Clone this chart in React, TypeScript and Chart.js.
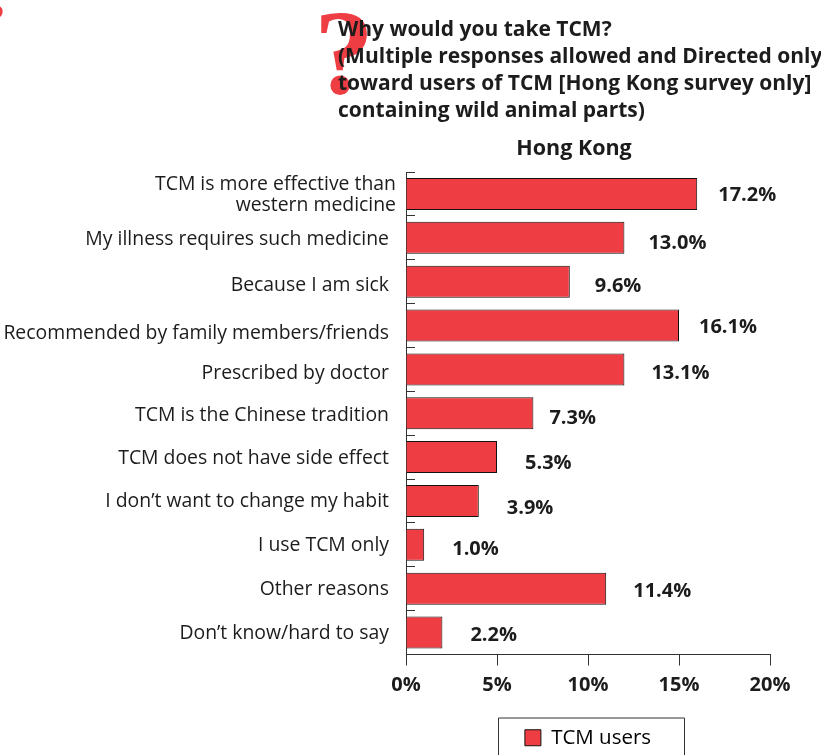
import React, { useEffect, useRef } from "react";
import { Chart, registerables } from "chart.js";

Chart.register(...registerables);

const categories: (string | string[])[] = [
  ["TCM is more effective than", "western medicine"],
  "My illness requires such medicine",
  "Because I am sick",
  "Recommended by family members/friends",
  "Prescribed by doctor",
  "TCM is the Chinese tradition",
  "TCM does not have side effect",
  "I don\u2019t want to change my habit",
  "I use TCM only",
  "Other reasons",
  "Don\u2019t know/hard to say",
];
const barValues = [16, 12, 9, 15, 12, 7, 5, 4, 1, 11, 2];
const printedValues = ["17.2%", "13.0%", "9.6%", "16.1%", "13.1%", "7.3%", "5.3%", "3.9%", "1.0%", "11.4%", "2.2%"];
const xTicks = [0, 5, 10, 15, 20];
const titleLines = [
  "Why would you take TCM?",
  "(Multiple responses allowed and Directed only",
  "toward users of TCM [Hong Kong survey only]",
  "containing wild animal parts)",
];
const subtitle = "Hong Kong";
const seriesName = "TCM users";

const RED = "#ef3d44";
const INK = "#1c1c1c";
const FAMILY = '"Open Sans", sans-serif';

// hand-placed nudges seen in the printed figure
const valueNudgeX = [21, 24, 25, 20, 27, 16, 28, 28, 28, 27, 28];
const valueNudgeY = [1, 6, 5, 2, 4, 5, 6, 7, 4, 3, 3];
const labelNudgeX = [7, 0, 0, 0, 0, 0, 0, 0, 0, 0, 0];
const labelNudgeY = [1, 2, 4, 8, 4, 2, 1, 1, 1, 1, 1];

const artwork = {
  id: "artwork",
  beforeDraw(chart: any) {
    const { ctx } = chart;
    const yScale = chart.scales.y;
    const items = yScale.getLabelItems(chart.chartArea);
    items.forEach((it: any, i: number) => {
      it.options.translation = [389 + labelNudgeX[i], yScale.getPixelForTick(i) + labelNudgeY[i]];
    });
    ctx.save();
    ctx.fillStyle = RED;
    ctx.textBaseline = "alphabetic";
    ctx.textAlign = "left";
    ctx.font = 'bold 120px "Liberation Serif", serif';
    ctx.fillText("?", 314, 93);
    ctx.font = 'bold 40px "Liberation Serif", serif';
    ctx.fillText("?", -15, 31);

    ctx.fillStyle = INK;
    ctx.font = `bold 21px ${FAMILY}`;
    ctx.textBaseline = "middle";
    titleLines.forEach((line, i) => ctx.fillText(line, 338, 30.5 + i * 26.7));
    ctx.textAlign = "center";
    ctx.font = `bold 21.5px ${FAMILY}`;
    ctx.fillText(subtitle, 574, 149);
    ctx.restore();
  },
  afterDatasetsDraw(chart: any) {
    const { ctx } = chart;
    const xScale = chart.scales.x;
    const yScale = chart.scales.y;
    ctx.save();
    ctx.fillStyle = INK;
    ctx.font = `bold 20px ${FAMILY}`;
    ctx.textBaseline = "middle";
    printedValues.forEach((text, i) => {
      ctx.fillText(
        text,
        xScale.getPixelForValue(barValues[i]) + valueNudgeX[i],
        yScale.getPixelForValue(i) + valueNudgeY[i],
      );
    });
    ctx.restore();
  },
  afterDraw(chart: any) {
    const { ctx, chartArea, legend } = chart;
    const mid = (chartArea.left + chartArea.right) / 2 + 3;
    ctx.save();
    ctx.strokeStyle = "#333333";
    ctx.lineWidth = 1;
    ctx.beginPath();
    ctx.moveTo(mid - 93 + 0.5, 755);
    ctx.lineTo(mid - 93 + 0.5, legend.top - 0.5);
    ctx.lineTo(mid + 93 + 0.5, legend.top - 0.5);
    ctx.lineTo(mid + 93 + 0.5, 755);
    ctx.stroke();
    ctx.restore();
  },
};

export default function App() {
  const ref = useRef<HTMLCanvasElement>(null);
  useEffect(() => {
    const chart = new Chart(ref.current as HTMLCanvasElement, {
      type: "bar",
      data: {
        labels: categories as any,
        datasets: [
          {
            label: seriesName,
            data: barValues,
            backgroundColor: RED,
            borderColor: "#111111",
            borderWidth: 1,
            categoryPercentage: 0.73,
            barPercentage: 1,
          },
        ],
      },
      options: {
        indexAxis: "y",
        responsive: false,
        animation: false,
        layout: { padding: { top: 172, right: 51, left: 0, bottom: -3 } },
        scales: {
          x: {
            min: 0,
            max: 20,
            afterFit(scale: any) {
              scale.height = 64;
            },
            afterBuildTicks(scale: any) {
              scale.ticks = xTicks.map((value) => ({ value }));
            },
            grid: {
              drawOnChartArea: false,
              drawTicks: true,
              tickLength: 11,
              color: "#333333",
            },
            border: { color: "#333333", width: 1 },
            ticks: {
              padding: 8,
              maxRotation: 0,
              color: INK,
              font: { family: FAMILY, size: 20, weight: "bold" },
              callback: (v: any) => `${v}%`,
            },
          },
          y: {
            afterFit(scale: any) {
              scale.width = 406;
            },
            grid: {
              drawOnChartArea: false,
              tickLength: -9,
              color: "#333333",
            },
            border: { color: "#333333", width: 1 },
            ticks: {
              autoSkip: false,
              padding: 17,
              color: INK,
              font: { family: FAMILY, size: 19.4, lineHeight: 1.1 },
            },
          },
        },
        plugins: {
          title: { display: false },
          tooltip: { enabled: false },
          legend: {
            display: true,
            position: "bottom",
            fullSize: false,
            labels: {
              boxWidth: 16,
              boxHeight: 16,
              padding: 9,
              color: INK,
              font: { family: FAMILY, size: 20.5 },
              generateLabels: () => [
                {
                  text: seriesName,
                  fillStyle: RED,
                  strokeStyle: "#111111",
                  lineWidth: 1,
                  datasetIndex: 0,
                },
              ],
            },
          },
        },
      } as any,
      plugins: [artwork],
    });
    return () => chart.destroy();
  }, []);
  return (
    <div style={{ position: "absolute", left: 0, top: 0, width: 821, height: 755, background: "#fff", overflow: "hidden" }}>
      <canvas ref={ref} width={821} height={755} style={{ display: "block" }} />
    </div>
  );
}
